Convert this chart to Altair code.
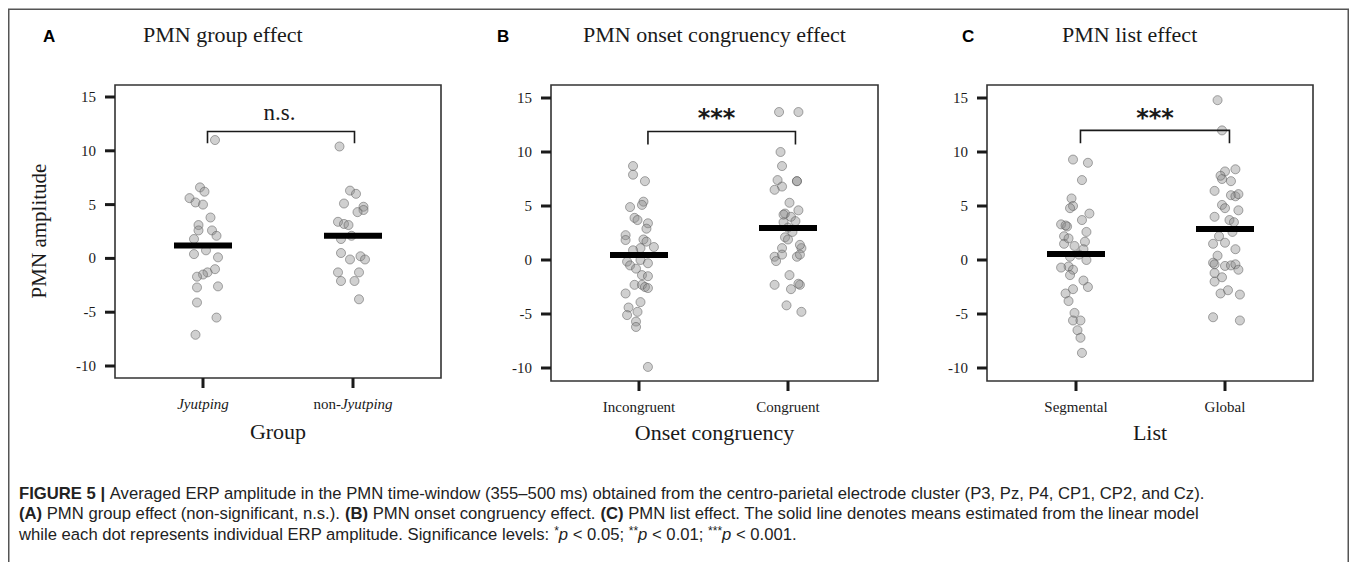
import altair as alt
import pandas as pd

# ---------------- data ----------------
Y_TICKS = [-10, -5, 0, 5, 10, 15]
Y_TITLE = "PMN amplitude"

# Panel A : PMN group effect
A_LETTER = "A"
A_TITLE = "PMN group effect"
A_XTITLE = "Group"
A_JYUT_VAL = [11.0, 6.6, 6.2, 5.6, 5.2, 5.0, 3.8, 3.1, 2.6, 2.6, 2.1, 1.8, 0.4, 0.75,
              0.1, -1.0, -1.3, -1.5, -1.7, -2.7, -2.6, -4.1, -5.5, -7.1]
A_JYUT_JIT = [0.08, -0.02, 0.01, -0.09, -0.05, 0.0, 0.05, -0.03, -0.03, 0.06, 0.09, -0.06,
              -0.06, 0.02, 0.10, 0.08, 0.03, 0.0, -0.04, -0.04, 0.10, -0.04, 0.09, -0.05]
A_NON_VAL = [10.4, 6.3, 6.0, 5.1, 4.8, 4.5, 4.3, 3.4, 3.2, 3.1, 2.1, 1.8, 0.5, -0.1, 0.2,
             -0.1, -1.3, -1.3, -2.1, -2.1, -3.8]
A_NON_JIT = [-0.09, -0.02, 0.02, -0.06, 0.07, 0.07, 0.03, -0.10, -0.06, -0.03, -0.01, -0.08,
             -0.08, -0.02, 0.05, 0.08, -0.10, 0.04, -0.08, 0.01, 0.04]
A_MEANS = [1.2, 2.1]
A_SIG = "n.s."
A_SIG_POS = [0.51, 13.5]
A_BRACKET_X = [0.03, 1.01]
A_BRACKET_Y = [10.7, 11.8]

# Panel B : PMN onset congruency effect
B_LETTER = "B"
B_TITLE = "PMN onset congruency effect"
B_XTITLE = "Onset congruency"
B_CATS = ["Incongruent", "Congruent"]
B_INC_VAL = [8.7, 7.9, 7.3, 5.4, 5.1, 4.9, 3.9, 3.7, 3.4, 2.9, 2.3, 1.85, 1.9, 1.7, 1.2, 1.1,
             0.9, 0.0, -0.15, -0.3, -0.5, -0.8, -1.4, -1.5, -2.3, -2.3, -2.5, -2.6, -3.1, -3.9,
             -4.4, -4.8, -5.1, -5.7, -6.2, -9.9]
B_INC_JIT = [-0.04, -0.04, 0.04, 0.03, 0.02, -0.06, -0.03, -0.01, 0.06, 0.05, -0.09, -0.09,
             0.03, 0.05, 0.10, 0.01, -0.04, 0.01, -0.08, 0.06, -0.06, -0.02, 0.02, 0.06,
             -0.03, 0.02, 0.04, 0.06, -0.09, 0.01, -0.07, -0.01, -0.08, -0.02, -0.02, 0.06]
B_CON_VAL = [13.7, 13.7, 10.0, 8.7, 7.4, 7.3, 7.3, 6.8, 6.5, 5.3, 4.6, 4.3, 4.0, 3.5, 3.6, 2.1,
             1.9, 1.1, 1.1, 0.3, 0.5, 0.3, 0.5, -0.1, -1.4, -2.3, -2.7, -2.3, -2.2, -4.2, -4.8,
             3.0, 4.2, 2.6, 1.4]
B_CON_JIT = [-0.06, 0.07, -0.05, -0.04, -0.07, 0.06, 0.06, -0.04, -0.09, 0.01, 0.07, -0.02,
             0.02, -0.03, 0.05, -0.02, 0.0, -0.04, 0.09, -0.09, -0.04, 0.06, 0.08, -0.08,
             0.01, -0.09, 0.02, 0.08, 0.07, -0.01, 0.09, 0.0, -0.03, 0.03, 0.08]
B_MEANS = [0.46, 2.96]
B_SIG = "***"
B_SIG_POS = [0.52, 13.6]
B_BRACKET_X = [0.06, 1.05]
B_BRACKET_Y = [10.7, 11.9]

# Panel C : PMN list effect
C_LETTER = "C"
C_TITLE = "PMN list effect"
C_XTITLE = "List"
C_CATS = ["Segmental", "Global"]
C_SEG_VAL = [9.3, 9.0, 7.4, 5.7, 5.0, 4.8, 4.3, 3.7, 3.3, 3.1, 2.6, 2.2, 1.7, 1.5, 1.3, 0.5,
             0.0, -0.6, -0.7, -0.9, -1.4, -1.9, -2.5, -2.7, -3.1, -3.8, -4.9, -5.6, -5.6,
             -6.5, -7.2, -8.6, 3.2, 1.0, 2.0, 0.3]
C_SEG_JIT = [-0.02, 0.08, 0.04, -0.03, -0.02, -0.04, 0.09, 0.04, -0.10, -0.06, 0.07, -0.08,
             0.06, -0.08, -0.01, 0.02, 0.07, -0.05, -0.10, -0.02, -0.04, 0.05, 0.08, -0.02,
             -0.07, -0.05, -0.01, -0.02, 0.03, 0.01, 0.03, 0.04, -0.07, 0.05, -0.05, -0.04]
C_GLO_VAL = [14.8, 12.0, 8.4, 8.2, 7.5, 7.3, 6.4, 6.0, 5.9, 6.1, 5.1, 4.8, 4.6, 4.0, 3.7, 3.5,
             1.5, 1.6, 1.0, 0.4, -0.25, -0.4, -0.55, -0.5, -0.4, -0.9, -1.2, -1.6, -2.0,
             -2.8, -3.1, -3.2, -5.3, -5.6, 2.2, 2.6, 7.8]
C_GLO_JIT = [-0.05, -0.02, 0.07, 0.0, -0.02, 0.04, -0.07, 0.04, 0.07, 0.09, -0.02, 0.0, 0.09,
             -0.07, 0.03, 0.06, -0.08, 0.0, 0.07, -0.05, -0.08, -0.07, 0.0, 0.04, 0.07, 0.09,
             -0.07, -0.02, -0.07, 0.02, -0.03, 0.10, -0.08, 0.10, -0.04, 0.05, -0.03]
C_MEANS = [0.55, 2.87]
C_SIG = "***"
C_SIG_POS = [0.53, 13.6]
C_BRACKET_X = [0.03, 1.03]
C_BRACKET_Y = [10.8, 12.0]

CAPTION = [
    [("FIGURE 5 |", "bold"),
     (" Averaged ERP amplitude in the PMN time-window (355\u2013500 ms) obtained from the "
      "centro-parietal electrode cluster (P3, Pz, P4, CP1, CP2, and Cz).", "normal")],
    [("(A)", "bold"), (" PMN group effect (non-significant, n.s.). ", "normal"),
     ("(B)", "bold"), (" PMN onset congruency effect. ", "normal"),
     ("(C)", "bold"), (" PMN list effect. The solid line denotes means estimated from the linear model",
                       "normal")],
    [("while each dot represents individual ERP amplitude. Significance levels: ", "normal"),
     ("*", "sup"), ("p", "italic"), (" < 0.05; ", "normal"),
     ("**", "sup"), ("p", "italic"), (" < 0.01; ", "normal"),
     ("***", "sup"), ("p", "italic"), (" < 0.001.", "normal")],
]

# ---------------- styling / layout ----------------
SERIF = "Liberation Serif"
SANS = "Liberation Sans"
INK = "#1a1a1a"
ONE = pd.DataFrame({"k": [0]})

# Arial / Liberation Sans advance widths (per 1000 em) for caption layout
REG = {' ': 278, '(': 333, ')': 333, ',': 278, '-': 333, '.': 278, ':': 278, ';': 278,
       '<': 584, '*': 389, '|': 260, '\u2013': 556,
       'A': 667, 'B': 667, 'C': 722, 'D': 722, 'E': 667, 'F': 611, 'G': 778, 'H': 722,
       'I': 278, 'J': 500, 'K': 667, 'L': 556, 'M': 833, 'N': 722, 'O': 778, 'P': 667,
       'Q': 778, 'R': 722, 'S': 667, 'T': 611, 'U': 722, 'V': 667, 'W': 944, 'X': 667,
       'Y': 667, 'Z': 611,
       'a': 556, 'b': 556, 'c': 500, 'd': 556, 'e': 556, 'f': 278, 'g': 556, 'h': 556,
       'i': 222, 'j': 222, 'k': 500, 'l': 222, 'm': 833, 'n': 556, 'o': 556, 'p': 556,
       'q': 556, 'r': 333, 's': 500, 't': 278, 'u': 556, 'v': 500, 'w': 722, 'x': 500,
       'y': 500, 'z': 500}
BOLD = dict(REG)
BOLD.update({'A': 722, 'B': 722, 'C': 722, 'R': 722, 'U': 722, '|': 280})


def em_width(s, style):
    table = BOLD if style == "bold" else REG
    return sum(table.get(ch, 556) for ch in s) / 1000.0


line1_em = sum(em_width(t, s) for t, s in CAPTION[0])
CAP_SIZE = round(1186.0 / line1_em, 2)
CAP_X0 = 11
CAP_Y = [486, 506, 527]

cap_rows = []
for li, segs in enumerate(CAPTION):
    x = CAP_X0
    for text, style in segs:
        size = CAP_SIZE * (0.72 if style == "sup" else 1.0)
        lead = len(text) - len(text.lstrip(" "))
        trail = len(text) - len(text.rstrip(" "))
        core = text.strip(" ")
        x += lead * 0.278 * CAP_SIZE
        cap_rows.append({"px": x, "py": CAP_Y[li] - (4 if style == "sup" else 0),
                         "t": core, "style": style})
        x += em_width(core, style) * size + trail * 0.278 * CAP_SIZE
cap_df = pd.DataFrame(cap_rows)

caption_layers = []
for style, kw in [("normal", {}), ("bold", {"fontWeight": "bold"}),
                  ("italic", {"fontStyle": "italic"}),
                  ("sup", {"fontSize": round(CAP_SIZE * 0.72, 2)})]:
    opts = dict(font=SANS, fontSize=CAP_SIZE, align="left", baseline="middle", color="#222222")
    opts.update(kw)
    caption_layers.append(
        alt.Chart(cap_df[cap_df["style"] == style]).mark_text(**opts).encode(
            x=alt.X("px:Q", scale=None, axis=None),
            y=alt.Y("py:Q", scale=None, axis=None),
            text="t:N"))


def single_text(text, x, y, **kw):
    return alt.Chart(ONE).mark_text(text=text, **kw).encode(x=alt.value(x), y=alt.value(y))


# Times (Liberation Serif) widths for the mixed-style label "non-Jyutping"
NON_W = (500 + 500 + 500 + 333) / 1000.0 * 15
JYUT_W = (444 + 444 + 500 + 278 + 500 + 278 + 500 + 500) / 1000.0 * 15
SPLIT_DX = -(NON_W + JYUT_W) / 2 + NON_W

SIG_NS = dict(font=SERIF, fontSize=23, align="center", baseline="middle", color=INK)
SIG_STAR = dict(font="DejaVu Sans", fontSize=24, fontWeight="bold", align="center",
                baseline="middle", dy=6, color=INK)

PANELS = [
    dict(frame=(107, 433, 77, 370), xr=[195, 345], yr=[358, 89],
         pts=[(A_JYUT_VAL, A_JYUT_JIT), (A_NON_VAL, A_NON_JIT)], means=A_MEANS,
         sig=A_SIG, sig_pos=A_SIG_POS, sig_style=SIG_NS,
         bracket_x=A_BRACKET_X, bracket_y=A_BRACKET_Y,
         xlabels=[(0, "Jyutping", "italic", "center", 0),
                  (1, "non-", "normal", "right", SPLIT_DX),
                  (1, "Jyutping", "italic", "left", SPLIT_DX)],
         xtitle=A_XTITLE, xtitle_y=424, letter=A_LETTER, letter_x=35, title=A_TITLE, title_x=135),
    dict(frame=(543, 870, 77, 373), xr=[631, 780], yr=[360, 90],
         pts=[(B_INC_VAL, B_INC_JIT), (B_CON_VAL, B_CON_JIT)], means=B_MEANS,
         sig=B_SIG, sig_pos=B_SIG_POS, sig_style=SIG_STAR,
         bracket_x=B_BRACKET_X, bracket_y=B_BRACKET_Y,
         xlabels=[(0, B_CATS[0], "normal", "center", 0), (1, B_CATS[1], "normal", "center", 0)],
         xtitle=B_XTITLE, xtitle_y=425, letter=B_LETTER, letter_x=489, title=B_TITLE, title_x=575),
    dict(frame=(979, 1305, 77, 373), xr=[1068, 1217], yr=[360, 90],
         pts=[(C_SEG_VAL, C_SEG_JIT), (C_GLO_VAL, C_GLO_JIT)], means=C_MEANS,
         sig=C_SIG, sig_pos=C_SIG_POS, sig_style=SIG_STAR,
         bracket_x=C_BRACKET_X, bracket_y=C_BRACKET_Y,
         xlabels=[(0, C_CATS[0], "normal", "center", 0), (1, C_CATS[1], "normal", "center", 0)],
         xtitle=C_XTITLE, xtitle_y=425, letter=C_LETTER, letter_x=954, title=C_TITLE, title_x=1054),
]


def panel(g):
    xs = alt.Scale(domain=[0, 1], range=g["xr"], nice=False, zero=False)
    ys = alt.Scale(domain=[-10, 15], range=g["yr"], nice=False, zero=False)

    def ex():
        return alt.X("x:Q", scale=xs, axis=None)

    def ey():
        return alt.Y("y:Q", scale=ys, axis=None)

    fl, fr, ft, fb = g["frame"]
    rows = [{"x": ci + j, "y": v}
            for ci, (vals, jits) in enumerate(g["pts"]) for v, j in zip(vals, jits)]
    layers = []
    layers.append(alt.Chart(ONE).mark_rect(fillOpacity=0, stroke="#333333", strokeWidth=1.6).encode(
        x=alt.value(fl), x2=alt.value(fr), y=alt.value(ft), y2=alt.value(fb)))
    layers.append(alt.Chart(pd.DataFrame(rows)).mark_circle(
        size=82, opacity=1, fill="#8a8a8a", fillOpacity=0.4, stroke="#555555",
        strokeOpacity=0.5, strokeWidth=1).encode(x=ex(), y=ey()))
    layers.append(alt.Chart(pd.DataFrame({"x": [0, 1], "y": g["means"]})).mark_tick(
        orient="horizontal", size=58, thickness=6, color="black", opacity=1).encode(x=ex(), y=ey()))
    bx, by = g["bracket_x"], g["bracket_y"]
    br = pd.DataFrame({"x": [bx[0], bx[0], bx[1], bx[1]],
                       "y": [by[0], by[1], by[1], by[0]], "o": [0, 1, 2, 3]})
    layers.append(alt.Chart(br).mark_line(color=INK, strokeWidth=1.6).encode(
        x=ex(), y=ey(), order="o:Q"))
    layers.append(alt.Chart(pd.DataFrame({"x": [g["sig_pos"][0]], "y": [g["sig_pos"][1]],
                                          "t": [g["sig"]]})).mark_text(**g["sig_style"]).encode(
        x=ex(), y=ey(), text="t:N"))
    # y axis ticks and labels
    layers.append(alt.Chart(pd.DataFrame({"y": Y_TICKS})).mark_rule(color=INK, strokeWidth=3).encode(
        y=ey(), x=alt.value(fl - 10), x2=alt.value(fl)))
    layers.append(alt.Chart(pd.DataFrame({"y": Y_TICKS, "t": [str(v) for v in Y_TICKS]})).mark_text(
        font=SERIF, fontSize=15, align="right", baseline="middle", color=INK).encode(
        y=ey(), x=alt.value(fl - 19), text="t:N"))
    # x axis ticks and labels
    layers.append(alt.Chart(pd.DataFrame({"x": [0, 1]})).mark_rule(color=INK, strokeWidth=3).encode(
        x=ex(), y=alt.value(fb), y2=alt.value(fb + 10)))
    for ci, text, style, align, dx in g["xlabels"]:
        kw = dict(font=SERIF, fontSize=15, align=align, baseline="middle", color=INK, dx=dx)
        if style == "italic":
            kw["fontStyle"] = "italic"
        layers.append(alt.Chart(pd.DataFrame({"x": [ci], "t": [text]})).mark_text(**kw).encode(
            x=ex(), y=alt.value(fb + 26), text="t:N"))
    layers.append(single_text(g["xtitle"], (fl + fr) / 2, g["xtitle_y"], font=SERIF, fontSize=22,
                              align="center", baseline="middle", color=INK))
    layers.append(single_text(g["letter"], g["letter_x"], 29, font=SANS, fontSize=17,
                              fontWeight="bold", align="left", baseline="middle", color="black"))
    layers.append(single_text(g["title"], g["title_x"], 27, font=SERIF, fontSize=22,
                              align="left", baseline="middle", color=INK))
    return alt.layer(*layers)


border = alt.Chart(ONE).mark_rect(fillOpacity=0, stroke="#555555", strokeWidth=1.5).encode(
    x=alt.value(0.75), x2=alt.value(1340.25), y=alt.value(1.25), y2=alt.value(600))

ytitle = single_text(Y_TITLE, 32, 223, font=SERIF, fontSize=21, angle=270, align="center",
                     baseline="middle", color=INK)

chart = alt.layer(
    border, ytitle, *[panel(g) for g in PANELS], *caption_layers
).resolve_scale(
    x="independent", y="independent"
).properties(
    width=1341, height=554, padding=0,
    autosize=alt.AutoSizeParams(type="none"),
    background="white",
).configure_view(stroke="transparent")

chart.save("out.html", embed_options={"renderer": "svg", "actions": False})
